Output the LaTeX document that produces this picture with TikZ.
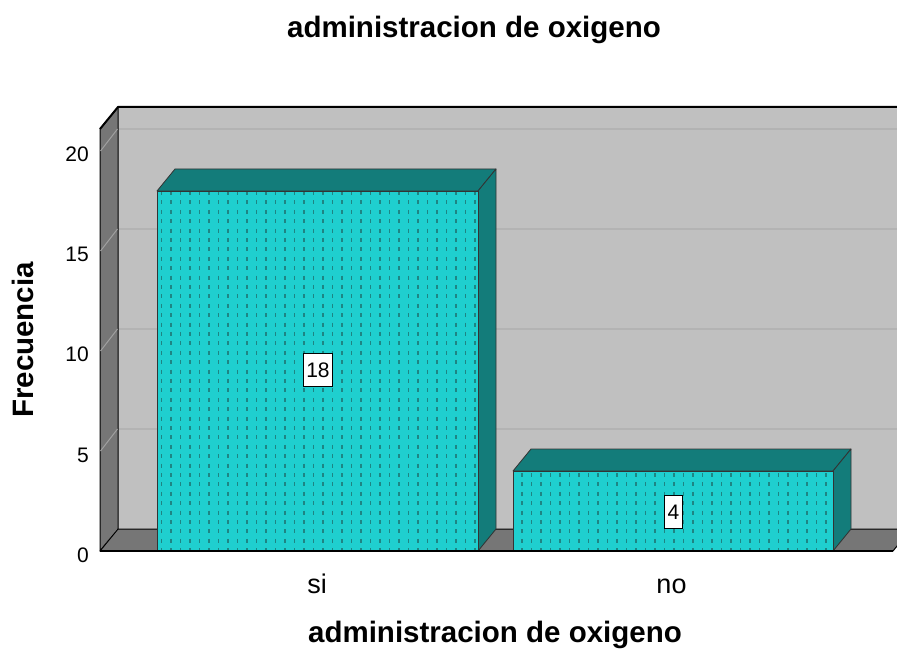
\documentclass[tikz,border=0pt]{standalone}
\usepackage{fontspec}
\setmainfont{Liberation Sans}
\definecolor{backgray}{HTML}{C0C0C0}
\definecolor{gridgray}{HTML}{B3B3B3}
\definecolor{sidegray}{HTML}{767676}
\definecolor{sidegrid}{HTML}{A0A0A0}
\definecolor{barfront}{HTML}{1FCFCF}
\definecolor{bartop}{HTML}{137C7A}
\definecolor{bardot}{HTML}{1E8584}
\begin{document}
\begin{tikzpicture}[x=1pt,y=-1pt,
  boldlabel/.style={font=\fontsize{29.5}{34}\selectfont\bfseries, inner sep=0pt},
  catlabel/.style={font=\fontsize{27}{31}\selectfont, inner sep=0pt, anchor=base},
  ticklabel/.style={font=\fontsize{21}{25}\selectfont, inner sep=0pt, anchor=base east},
  datalabel/.style={font=\fontsize{21}{25}\selectfont, draw=black, line width=1pt, fill=white,
    inner xsep=3pt, inner ysep=0pt, minimum height=33pt},
  wallface/.style={fill=sidegray, draw=black, line width=1pt, line join=round},
  barfrontface/.style={fill=barfront, draw=black!80, line width=0.8pt},
  bardarkface/.style={fill=bartop, draw=black!80, line width=0.8pt, line join=round},
  gridline/.style={draw=gridgray, line width=2.2pt},
  sidegridline/.style={draw=sidegrid, line width=1pt},
  dotline/.style={draw=bardot, line width=1.6pt, dash pattern=on 4pt off 5.4pt}
]
\useasboundingbox (0,0) rectangle (897,660);
\begin{scope}
\clip (0,0) rectangle (897,660);
% back wall
\fill[backgray] (118,107) rectangle (911,529);
\foreach \v in {5,10,15,20}
  \draw[gridline] (118,{529-20*\v}) -- (911,{529-20*\v});
% left side wall
\filldraw[wallface] (100,129) -- (118,107) -- (118,529) -- (100,551) -- cycle;
\foreach \v in {0,5,10,15,20}
  \draw[sidegridline] (100.5,{551-20*\v}) -- (117.5,{529-20*\v});
% floor
\filldraw[wallface] (100,551) -- (118,529) -- (911,529) -- (893,551) -- cycle;
% top edge of the wall
\draw[black, line width=2pt, line join=round] (100,129) -- (118,107) -- (911,107);
% bar "si"
\filldraw[bardarkface] (157,191) -- (175,169) -- (496,169) -- (478,191) -- cycle;
\filldraw[bardarkface] (478,191) -- (496,169) -- (496,529) -- (478,551) -- cycle;
\fill[barfront] (157,191) rectangle (478,551);
\begin{scope}
  \clip (157,191) rectangle (478,551);
  \foreach \x in {161.5,171,...,478}
    \draw[dotline] (\x,191) -- (\x,551);
\end{scope}
\draw[barfrontface, fill=none] (157,191) rectangle (478,551);
% bar "no"
\filldraw[bardarkface] (513,471) -- (531,449) -- (851,449) -- (833,471) -- cycle;
\filldraw[bardarkface] (833,471) -- (851,449) -- (851,529) -- (833,551) -- cycle;
\fill[barfront] (513,471) rectangle (833,551);
\begin{scope}
  \clip (513,471) rectangle (833,551);
  \foreach \x in {522,531.5,...,833}
    \draw[dotline] (\x,191) -- (\x,551);
\end{scope}
\draw[barfrontface, fill=none] (513,471) rectangle (833,551);
% front floor edge
\draw[black, line width=1.5pt] (100,551) -- (893,551);
\end{scope}
% data labels
\node[datalabel] (v18) at (318,370) {18};
\node[datalabel] (v4) at (673.5,512) {4};
% axis tick labels
\node[ticklabel] (t0) at (89,562) {0};
\node[ticklabel] (t5) at (89,462) {5};
\node[ticklabel] (t10) at (89,362) {10};
\node[ticklabel] (t15) at (89,262) {15};
\node[ticklabel] (t20) at (89,162) {20};
% category labels
\node[catlabel] (si) at (317,593) {si};
\node[catlabel] (no) at (671.5,593) {no};
% titles
\node[boldlabel, anchor=base] (title) at (474,38) {administracion de oxigeno};
\node[boldlabel, anchor=base] (xlabel) at (495,642) {administracion de oxigeno};
\node[boldlabel, anchor=base, rotate=90] (ylabel) at (33,340) {Frecuencia};
\end{tikzpicture}
\end{document}
